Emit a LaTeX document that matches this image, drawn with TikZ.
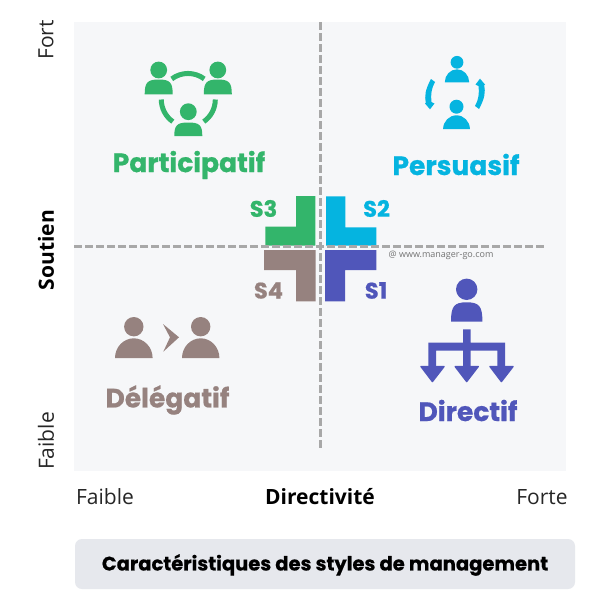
\documentclass[tikz,border=0pt]{standalone}
\usepackage{fontspec}
\setmainfont{Open Sans}
\newfontfamily\labelfont[BoldFeatures={FakeBold=0.7}]{Poppins}
\definecolor{panel}{HTML}{F6F7F9}
\definecolor{titlebox}{HTML}{E6E8ED}
\definecolor{gvert}{HTML}{33B56B}
\definecolor{bleu}{HTML}{05B4E0}
\definecolor{indigo}{HTML}{5056BA}
\definecolor{taupe}{HTML}{96827F}
\definecolor{tiret}{HTML}{A8A8A8}
\newcommand{\persona}[8]{% colour, cx, head y, r, half width, top, bottom, squareness
  \fill[#1] (#2,#3) circle[radius=#4pt];
  \fill[#1] ({#2-#5},#7) .. controls ({#2-#5},{#7-(#7-#6)*#8}) and ({#2-#5*#8},#6) .. (#2,#6)
     .. controls ({#2+#5*#8},#6) and ({#2+#5},{#7-(#7-#6)*#8}) .. ({#2+#5},#7) -- cycle;
}
\tikzset{
  stylename/.style={font=\labelfont\bfseries\fontsize{26.5}{26.5}\selectfont},
  sname/.style={font=\labelfont\bfseries\fontsize{22.5}{22.5}\selectfont},
  axis/.style={font=\fontsize{21}{21}\selectfont,text=black!85},
  axisb/.style={font=\bfseries\fontsize{21}{21}\selectfont,text=black},
  guide/.style={draw=tiret,line width=3.2pt,dash pattern=on 7.5pt off 3.5pt},
  ringarc/.style={draw=gvert,line width=5pt},
}
\begin{document}
\begin{tikzpicture}[x=1pt,y=-1pt]
\useasboundingbox (0,0) rectangle (600,600);
\fill[white] (0,0) rectangle (600,600);
\fill[panel] (74,22) rectangle (566,471);
\fill[titlebox,rounded corners=7pt] (75,539) rectangle (575,589);
% quadrant shapes
\fill[gvert] (296,196) -- (315.3,196) -- (315.3,245.7) -- (265.3,245.7) -- (265.3,226.7) -- (296,226.7) -- cycle;
\fill[bleu] (326,196.3) -- (345.3,196.3) -- (345.3,227.3) -- (376.3,227.3) -- (376.3,245.7) -- (326,245.7) -- cycle;
\fill[taupe] (264,250) -- (315.7,250) -- (315.7,301.3) -- (296,301.3) -- (296,270) -- (264,270) -- cycle;
\fill[indigo] (325,250) -- (376.3,250) -- (376.3,270) -- (345,270) -- (345,301.3) -- (325,301.3) -- cycle;
% guides
\draw[guide] (74,246.3) -- (547,246.3);
\draw[guide] (320.3,22) -- (320.3,450);
% Participatif icon
\persona{gvert}{158.7}{70}{8.4}{14}{79.5}{94.3}{0.8}
\persona{gvert}{217.8}{70}{8.4}{14}{79.5}{94.3}{0.8}
\persona{gvert}{188.3}{111.7}{8.4}{14}{122.5}{136}{0.8}
\draw[ringarc] (171.75,78.9) arc[start angle=127,end angle=53,radius=27pt];
\draw[ringarc] (161.3,99.5) arc[start angle=180,end angle=235,radius=27pt];
\draw[ringarc] (215.3,99.5) arc[start angle=0,end angle=-55,radius=27pt];
% Persuasif icon
\persona{bleu}{457}{62.3}{6.4}{12.2}{69.3}{82.3}{0.55}
\persona{bleu}{456.5}{106.7}{7}{13.4}{115.3}{129}{0.55}
\fill[bleu] (431,79) .. controls (425,90) and (424.5,96) .. (425.8,103) -- (425,103.5) -- (430,109.3) -- (434.5,103.5) -- (431.5,102) .. controls (430.5,95) and (431.5,88) .. (435,82) -- cycle;
\fill[bleu] (479,109) .. controls (485,98) and (485.5,92) .. (484.2,85) -- (485,84.5) -- (480,78.7) -- (475.5,84.5) -- (478.5,86) .. controls (479.5,93) and (478.5,100) .. (475,106) -- cycle;
% Directif icon
\persona{indigo}{466.7}{289.3}{10.7}{15.7}{302.3}{321.7}{0.8}
\fill[indigo] (463,329.3) -- (470.7,329.3) -- (470.7,342.7) -- (505,342.7) -- (505,366) -- (497.3,366) -- (497.3,350.7) -- (470.7,350.7) -- (470.7,366) -- (463,366) -- (463,350.7) -- (436,350.7) -- (436,366) -- (428.3,366) -- (428.3,342.7) -- (463,342.7) -- cycle;
\fill[indigo,draw=indigo,line width=1.5pt,line join=round] (421,366.5) -- (444,366.5) -- (432.4,381.5) -- cycle;
\fill[indigo,draw=indigo,line width=1.5pt,line join=round] (455.2,366.5) -- (478.2,366.5) -- (466.7,381.5) -- cycle;
\fill[indigo,draw=indigo,line width=1.5pt,line join=round] (490,366.5) -- (513,366.5) -- (501.4,381.5) -- cycle;
% Delegatif icon
\persona{taupe}{133.8}{326.7}{9.7}{18.8}{338.3}{358}{0.55}
\persona{taupe}{200.7}{326.7}{9.7}{18.7}{338.3}{358}{0.55}
\fill[taupe] (163,324) -- (179,337.3) -- (163.3,351.7) -- (170,337.3) -- cycle;
% labels
\node[stylename,text=gvert] (participatif) at (189,165) {Participatif};
\node[stylename,text=bleu] (persuasif) at (456,164.5) {Persuasif};
\node[stylename,text=taupe] (delegatif) at (167.5,400) {Délégatif};
\node[stylename,text=indigo] (directif) at (468,410.5) {Directif};
\node[sname,text=gvert] (s3) at (263.5,208.5) {S3};
\node[sname,text=bleu] (s2) at (376.5,208.5) {S2};
\node[sname,text=taupe] (s4) at (268.5,290.5) {S4};
\node[sname,text=indigo] (s1) at (376,290.5) {S1};
\node[font=\fontsize{9}{9}\selectfont,text=black!55] (credit) at (441,255) {@ www.manager-go.com};
\node[axis,rotate=90] (fort) at (46,40) {Fort};
\node[axis,rotate=90] (faibley) at (46,441) {Faible};
\node[axisb,rotate=90] (soutien) at (46,250) {Soutien};
\node[axis] (faiblex) at (105,497) {Faible};
\node[axisb] (directivite) at (320,497) {Directivité};
\node[axis] (forte) at (542,497) {Forte};
\node[font=\labelfont\bfseries\fontsize{19.5}{19.5}\selectfont,text=black] (titre) at (325,565) {Caractéristiques des styles de management};
\end{tikzpicture}
\end{document}
